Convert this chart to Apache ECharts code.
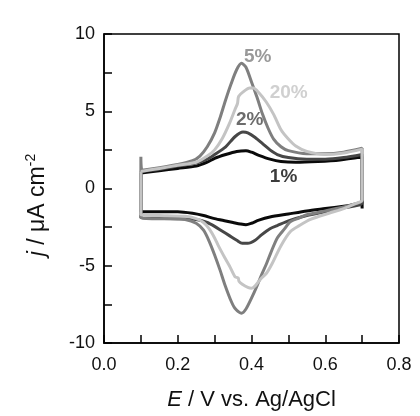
<!DOCTYPE html>
<html>
<head>
<meta charset="utf-8">
<script src="https://cdn.jsdelivr.net/npm/echarts@6/dist/echarts.min.js"></script>
<style>html,body{margin:0;padding:0;background:#fff;}#c{width:420px;height:416px;}</style>
</head>
<body>
<div id="c"></div>
<script>
// Series names
const seriesNames = ['5%', '20%', '2%', '1%'];
// Anodic (forward) branches: [E / V, j / µA cm^-2]
const anodic5 = [[0.1,2.05],[0.103,1.2],[0.15,1.35],[0.2,1.55],[0.24,1.8],[0.26,2.1],[0.28,2.7],[0.30,3.6],[0.315,4.6],[0.33,5.75],[0.345,6.8],[0.36,7.7],[0.373,8.1],[0.385,7.85],[0.40,6.9],[0.415,5.9],[0.43,4.8],[0.445,3.9],[0.46,3.2],[0.48,2.7],[0.50,2.45],[0.55,2.25],[0.60,2.25],[0.65,2.35],[0.70,2.6]];
const cathodic5 = [[0.70,-0.8],[0.68,-1.0],[0.65,-1.2],[0.60,-1.45],[0.55,-1.7],[0.53,-1.9],[0.505,-2.15],[0.49,-2.6],[0.47,-3.2],[0.455,-4.0],[0.44,-4.9],[0.427,-5.6],[0.415,-6.3],[0.40,-7.1],[0.385,-7.8],[0.373,-8.07],[0.355,-7.75],[0.345,-7.3],[0.328,-6.24],[0.315,-5.3],[0.30,-4.3],[0.285,-3.4],[0.27,-2.7],[0.25,-2.25],[0.22,-2.0],[0.18,-1.95],[0.13,-1.95],[0.1,-1.9]];
const anodic20 = [[0.1,1.1],[0.15,1.3],[0.2,1.5],[0.25,1.7],[0.28,2.1],[0.30,2.5],[0.32,3.2],[0.34,4.2],[0.355,5.1],[0.362,5.5],[0.365,5.95],[0.38,6.3],[0.395,6.5],[0.405,6.5],[0.42,6.2],[0.44,5.6],[0.46,4.8],[0.48,3.8],[0.50,3.2],[0.52,2.75],[0.55,2.4],[0.60,2.2],[0.65,2.3],[0.70,2.55]];
const cathodic20 = [[0.70,-0.75],[0.68,-1.0],[0.65,-1.3],[0.61,-1.6],[0.56,-2.0],[0.53,-2.4],[0.505,-2.8],[0.48,-3.7],[0.455,-4.9],[0.44,-5.5],[0.425,-5.85],[0.41,-6.3],[0.40,-6.45],[0.39,-6.4],[0.375,-6.2],[0.366,-6.0],[0.364,-5.8],[0.355,-5.7],[0.34,-5.0],[0.328,-4.5],[0.31,-3.7],[0.30,-3.2],[0.285,-2.6],[0.27,-2.2],[0.25,-1.95],[0.22,-1.8],[0.15,-1.75],[0.1,-1.7]];
const anodic2 = [[0.1,1.1],[0.15,1.25],[0.2,1.45],[0.25,1.65],[0.28,1.9],[0.30,2.2],[0.33,2.7],[0.355,3.35],[0.377,3.65],[0.39,3.6],[0.41,3.3],[0.43,2.9],[0.45,2.5],[0.47,2.2],[0.50,2.0],[0.55,1.9],[0.60,1.9],[0.65,2.0],[0.70,2.2]];
const cathodic2 = [[0.70,-0.9],[0.65,-1.25],[0.60,-1.5],[0.55,-1.75],[0.50,-2.1],[0.47,-2.4],[0.45,-2.6],[0.427,-3.0],[0.41,-3.35],[0.39,-3.55],[0.375,-3.55],[0.36,-3.35],[0.34,-3.05],[0.32,-2.75],[0.30,-2.45],[0.28,-2.2],[0.25,-2.0],[0.2,-1.95],[0.1,-1.9]];
const anodic1 = [[0.1,1.0],[0.15,1.15],[0.2,1.3],[0.25,1.45],[0.28,1.7],[0.30,1.95],[0.33,2.2],[0.36,2.4],[0.385,2.45],[0.40,2.35],[0.42,2.15],[0.45,1.9],[0.48,1.75],[0.52,1.7],[0.58,1.75],[0.64,1.85],[0.70,2.05]];
const cathodic1 = [[0.70,-1.3],[0.698,-1.0],[0.65,-1.15],[0.60,-1.3],[0.55,-1.45],[0.50,-1.65],[0.45,-1.85],[0.42,-2.05],[0.40,-2.25],[0.385,-2.35],[0.37,-2.3],[0.35,-2.2],[0.33,-2.1],[0.30,-1.95],[0.27,-1.75],[0.24,-1.6],[0.2,-1.5],[0.15,-1.5],[0.1,-1.5]];
// Label anchor positions in data coordinates
const labelPos = [[0.417,8.5],[0.501,6.17],[0.395,4.42],[0.487,0.73]];
// Axis ranges
const xTicks = [0.0, 0.2, 0.4, 0.6, 0.8];
const yTicks = [-10, -5, 0, 5, 10];

const colors = ['#7f7f7f', '#c4c4c4', '#474747', '#0a0a0a'];
const zOrder = [4, 5, 3, 2];
const loops = [[anodic5, cathodic5], [anodic20, cathodic20], [anodic2, cathodic2], [anodic1, cathodic1]];

const font = '"Liberation Sans", Arial, sans-serif';
const chart = echarts.init(document.getElementById('c'));

const series = loops.map((l, i) => ({
  type: 'line',
  name: seriesNames[i],
  data: l[0].concat(l[1]).concat([l[0][0]]),
  showSymbol: false,
  symbol: 'none',
  smooth: 0.25,
  lineStyle: { color: colors[i], width: 3 },
  z: zOrder[i]
}));
series.push({
  type: 'scatter',
  symbolSize: 0,
  data: labelPos.map((p, i) => ({ value: p, name: seriesNames[i],
    label: { color: colors[i] } })),
  label: { show: true, position: 'inside', formatter: p => p.name,
    fontFamily: font, fontWeight: 'bold', fontSize: 19 },
  z: 10
});

const axisCommon = {
  axisLine: { show: true, onZero: false, lineStyle: { color: '#000', width: 1.5 } },
  axisTick: { show: true, inside: true, length: 8, lineStyle: { color: '#000', width: 1.5 } },
  minorTick: { show: true, splitNumber: 2, length: 8, lineStyle: { color: '#000', width: 1.5 } },
  splitLine: { show: false },
  axisLabel: { color: '#111', fontFamily: font, fontSize: 18 }
};

chart.setOption({
  animation: false,
  backgroundColor: '#fff',
  grid: { left: 104, right: 21, top: 34, bottom: 73, show: true, borderColor: '#000', borderWidth: 1.5, backgroundColor: 'transparent' },
  xAxis: Object.assign({}, axisCommon, {
    type: 'value', min: xTicks[0], max: xTicks[xTicks.length - 1], interval: 0.2,
    axisLabel: Object.assign({}, axisCommon.axisLabel, { margin: 13, formatter: v => v.toFixed(1) }),
    name: '{i|E} / V vs. Ag/AgCl', nameLocation: 'middle', nameGap: 46,
    nameTextStyle: { color: '#111', fontFamily: font, fontSize: 22,
      rich: { i: { fontStyle: 'italic', fontFamily: font, fontSize: 22, color: '#111' } } }
  }),
  yAxis: Object.assign({}, axisCommon, {
    type: 'value', min: yTicks[0], max: yTicks[yTicks.length - 1], interval: 5,
    axisLabel: Object.assign({}, axisCommon.axisLabel, { margin: 9 })
  }),
  graphic: [{
    type: 'text', x: 38, y: 205, rotation: Math.PI / 2,
    style: {
      text: '{i|j} / μA cm{s|-2}',
      fontFamily: font, fontSize: 23, fill: '#111',
      align: 'center', verticalAlign: 'middle',
      rich: {
        i: { fontStyle: 'italic', fontFamily: font, fontSize: 23, fill: '#111', color: '#111' },
        s: { fontFamily: font, fontSize: 14, verticalAlign: 'top', lineHeight: 28, fill: '#111', color: '#111' }
      }
    }
  }],
  series: series
});
</script>
</body>
</html>
